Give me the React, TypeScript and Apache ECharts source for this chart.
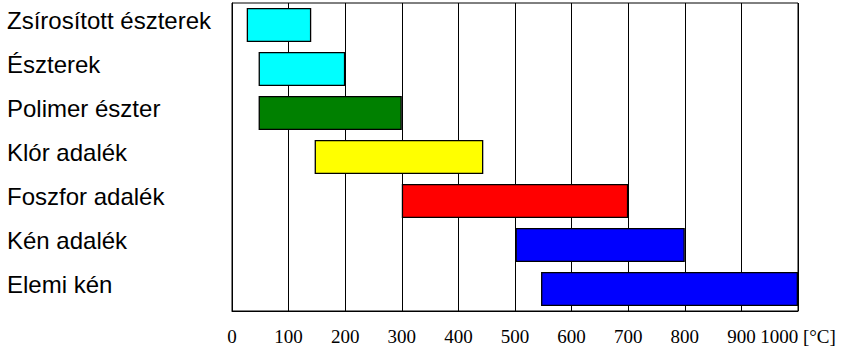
import React, { useEffect, useRef } from "react";
import * as echarts from "echarts";

const categories = [
  "Zsírosított észterek",
  "Észterek",
  "Polimer észter",
  "Klór adalék",
  "Foszfor adalék",
  "Kén adalék",
  "Elemi kén",
];
const startValues = [26, 47, 47, 146, 300, 501, 546];
const endValues = [140, 200, 300, 444, 700, 800, 1000];
const barColors = ["#00FFFF", "#00FFFF", "#008000", "#FFFF00", "#FF0000", "#0000FF", "#0000FF"];
const xTicks = [0, 100, 200, 300, 400, 500, 600, 700, 800, 900, 1000];
const unitLabel = "[°C]";

export default function App() {
  const ref = useRef<HTMLDivElement>(null);
  useEffect(() => {
    if (!ref.current) return;
    const chart = echarts.init(ref.current, undefined, { renderer: "svg" });
    const spans = endValues.map((e, i) => e - startValues[i]);
    chart.setOption({
      animation: false,
      backgroundColor: "#ffffff",
      grid: {
        left: 232,
        right: 44,
        top: 3,
        bottom: 50,
        show: true,
        borderColor: "#000",
        borderWidth: 1,
        backgroundColor: "transparent",
      },
      xAxis: {
        type: "value",
        min: xTicks[0],
        max: xTicks[xTicks.length - 1],
        interval: 100,
        axisLine: { show: true, lineStyle: { color: "#000", width: 1 } },
        axisTick: { show: false },
        splitLine: { show: true, lineStyle: { color: "#000", width: 1 } },
        axisLabel: {
          margin: 16,
          color: "#000",
          fontFamily: "Liberation Serif",
          fontSize: 19,
          formatter: (v: number) =>
            v === xTicks[xTicks.length - 1] ? `${v} ${unitLabel}` : `${v}`,
        },
      },
      yAxis: {
        type: "category",
        data: categories,
        inverse: true,
        axisLine: { show: true, lineStyle: { color: "#000", width: 1 } },
        axisTick: { show: false },
        splitLine: { show: false },
        axisLabel: {
          align: "left",
          verticalAlign: "bottom",
          lineHeight: 9,
          margin: 225,
          color: "#000",
          fontFamily: "Liberation Sans",
          fontSize: 24,
        },
      },
      series: [
        {
          type: "bar",
          stack: "range",
          data: startValues,
          itemStyle: { color: "transparent", borderWidth: 0 },
          barWidth: 34,
          silent: true,
        },
        {
          type: "bar",
          stack: "range",
          data: spans.map((v, i) => ({
            value: v,
            itemStyle: { color: barColors[i] },
          })),
          barWidth: 34,
          itemStyle: { borderColor: "#000", borderWidth: 1.3 },
        },
      ],
    });
    return () => chart.dispose();
  }, []);
  return (
    <div
      ref={ref}
      style={{ position: "fixed", left: 0, top: 0, width: 842, height: 361 }}
    />
  );
}
